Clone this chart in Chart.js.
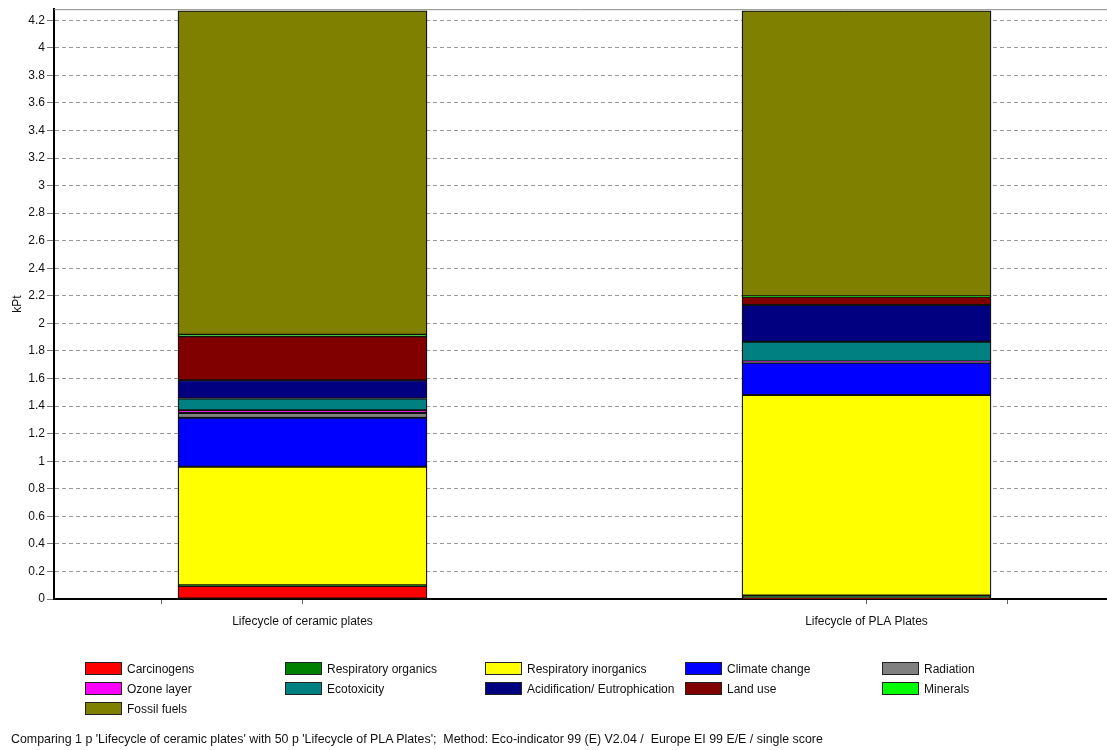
<!DOCTYPE html>
<html>
<head>
<meta charset="utf-8">
<script src="https://cdn.jsdelivr.net/npm/chart.js@4/dist/chart.umd.min.js"></script>
<style>
  html, body { margin: 0; padding: 0; background: #fff; }
  #wrap { position: relative; width: 1107px; height: 750px; overflow: hidden; font-family: "Liberation Sans", Arial, sans-serif; }
  canvas { position: absolute; left: 0; top: 0; }
  .lg { position: absolute; font-size: 12px; color: #111; white-space: nowrap; line-height: 14px; }
  .sw { display: inline-block; width: 37px; height: 13px; border: 1px solid #222; box-sizing: border-box; vertical-align: -2px; margin-right: 5px; }
  #foot { position: absolute; left: 11px; top: 732px; font-size: 12.4px; color: #111; white-space: nowrap; }
</style>
</head>
<body>
<div id="wrap">
  <canvas id="c" width="1107" height="750"></canvas>
  <div id="legend"></div>
  <div id="foot">Comparing 1 p 'Lifecycle of ceramic plates' with 50 p 'Lifecycle of PLA Plates';&nbsp; Method: Eco-indicator 99 (E) V2.04 /&nbsp; Europe EI 99 E/E / single score</div>
</div>
<script>
// ---- data ----
const categories = ["Lifecycle of ceramic plates", "Lifecycle of PLA Plates"];
const seriesNames = ["Carcinogens", "Respiratory organics", "Respiratory inorganics", "Climate change", "Radiation",
                     "Ozone layer", "Ecotoxicity", "Acidification/ Eutrophication", "Land use", "Minerals", "Fossil fuels"];
const carcinogens          = [0.095, 0.005];
const respiratoryOrganics  = [0.005, 0.020];
const respiratoryInorganics= [0.860, 1.455];
const climateChange        = [0.355, 0.234];
const radiation            = [0.035, 0.005];
const ozoneLayer           = [0.020, 0.005];
const ecotoxicity          = [0.085, 0.143];
const acidification        = [0.133, 0.266];
const landUse              = [0.318, 0.060];
const minerals             = [0.012, 0.005];
const fossilFuels          = [2.350, 2.070];
const yTicks = [0, 0.2, 0.4, 0.6, 0.8, 1, 1.2, 1.4, 1.6, 1.8, 2, 2.2, 2.4, 2.6, 2.8, 3, 3.2, 3.4, 3.6, 3.8, 4, 4.2];

const seriesValues = [carcinogens, respiratoryOrganics, respiratoryInorganics, climateChange, radiation,
                      ozoneLayer, ecotoxicity, acidification, landUse, minerals, fossilFuels];
const colors = ["#FF0000", "#008000", "#FFFF00", "#0000FF", "#808080",
                "#FF00FF", "#008080", "#000080", "#800000", "#00FF00", "#808000"];

const datasets = seriesNames.map((name, i) => ({
  label: name,
  data: seriesValues[i].map((v, k) => ({ x: k, y: v })),
  backgroundColor: colors[i],
  borderColor: "#111",
  borderWidth: 1.3,
  borderSkipped: false,
  barThickness: 249
}));

const topBorder = {
  id: "topBorder",
  afterDraw(chart) {
    const { ctx, chartArea } = chart;
    ctx.save();
    ctx.strokeStyle = "#8a8a8a";
    ctx.lineWidth = 1;
    ctx.beginPath();
    ctx.moveTo(chartArea.left, chartArea.top + 0.5);
    ctx.lineTo(chartArea.right, chartArea.top + 0.5);
    ctx.stroke();
    ctx.restore();
  }
};

const font = { family: "'Liberation Sans', Arial, sans-serif", size: 12 };

new Chart(document.getElementById("c"), {
  type: "bar",
  data: { datasets },
  plugins: [topBorder],
  options: {
    responsive: false,
    animation: false,
    devicePixelRatio: 1,
    layout: { padding: { top: 9, right: 0, left: 0, bottom: 0 } },
    plugins: { legend: { display: false }, tooltip: { enabled: false } },
    scales: {
      x: {
        type: "linear",
        stacked: true,
        offset: false,
        min: -0.4406,
        max: 1.4264,
        afterBuildTicks: s => { s.ticks = [-0.25, 0, 1, 1.25].map(v => ({ value: v })); },
        afterFit: s => { s.height = 151; },
        ticks: {
          autoSkip: false,
          maxRotation: 0,
          padding: 10,
          color: "#111",
          font,
          callback: v => (Number.isInteger(v) ? categories[v] : "")
        },
        grid: { offset: false, drawOnChartArea: false, drawTicks: true, tickLength: 5, tickColor: "#666" },
        border: { color: "#000", width: 2 }
      },
      y: {
        stacked: true,
        min: 0,
        max: 4.28,
        afterBuildTicks: s => { s.ticks = yTicks.map(v => ({ value: v })); },
        afterFit: s => { s.width = 54; },
        title: { display: true, text: "kPt", color: "#111", font, padding: { top: 10, bottom: 0 } },
        ticks: {
          padding: 2,
          color: "#111",
          font,
          callback: v => String(+v.toFixed(1))
        },
        grid: { color: "#9a9a9a", tickColor: "#777", tickLength: 7, tickBorderDash: [] },
        border: { color: "#000", width: 2, dash: [4, 3] }
      }
    }
  }
});

// ---- HTML legend (5 columns) ----
const legendEl = document.getElementById("legend");
const colX = [85, 285, 485, 685, 882];
const rowY = [662, 682, 702];
seriesNames.forEach((name, i) => {
  const d = document.createElement("div");
  d.className = "lg";
  d.style.left = colX[i % 5] + "px";
  d.style.top = rowY[Math.floor(i / 5)] + "px";
  d.innerHTML = '<span class="sw" style="background:' + colors[i] + '"></span>';
  d.appendChild(document.createTextNode(name));
  legendEl.appendChild(d);
});
</script>
</body>
</html>
